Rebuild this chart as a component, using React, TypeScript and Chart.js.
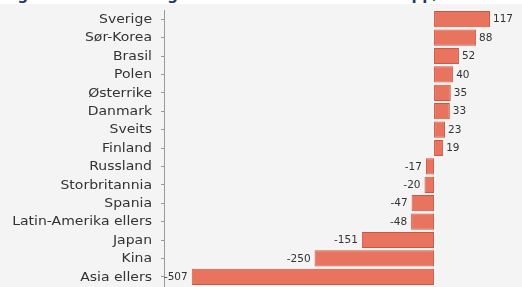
import React, { useEffect, useRef } from "react";
import { Chart, registerables } from "chart.js";

Chart.register(...registerables);

const categories = [
  "Sverige",
  "Sør-Korea",
  "Brasil",
  "Polen",
  "Østerrike",
  "Danmark",
  "Sveits",
  "Finland",
  "Russland",
  "Storbritannia",
  "Spania",
  "Latin-Amerika ellers",
  "Japan",
  "Kina",
  "Asia ellers",
];
const values = [117, 88, 52, 40, 35, 33, 23, 19, -17, -20, -47, -48, -151, -250, -507];
const titleText = "Fig 4.2 Nettoendring utenlandsmarkeder mest opp/ned";
const xMin = -565;
const xMax = 184;

const FONT = "'DejaVu Sans', Verdana, sans-serif";

const valueLabels = {
  id: "valueLabels",
  afterDatasetsDraw(chart: any) {
    const ctx = chart.ctx;
    const meta = chart.getDatasetMeta(0);
    ctx.save();
    ctx.font = `10.5px ${FONT}`;
    ctx.fillStyle = "#333333";
    ctx.textBaseline = "middle";
    meta.data.forEach((bar: any, i: number) => {
      const v = values[i];
      if (v >= 0) {
        ctx.textAlign = "left";
        ctx.fillText(String(v), bar.x + 3, bar.y + 0.5);
      } else {
        ctx.textAlign = "right";
        ctx.fillText(String(v), bar.x - 4, bar.y + 0.5);
      }
    });
    ctx.restore();
  },
};

// category labels, drawn slightly widened like the original rendering
const categoryLabels = {
  id: "categoryLabels",
  afterDraw(chart: any) {
    const ctx = chart.ctx;
    const yScale = chart.scales.y;
    const right = yScale.right - 3 - 9;
    ctx.save();
    ctx.font = `12.5px ${FONT}`;
    ctx.fillStyle = "#333333";
    ctx.textAlign = "right";
    ctx.textBaseline = "middle";
    categories.forEach((c, i) => {
      const y = yScale.getPixelForValue(i);
      ctx.save();
      ctx.translate(right, y + 0.5);
      ctx.scale(1.12, 1);
      ctx.fillText(c, 0, 0);
      ctx.restore();
    });
    ctx.restore();
  },
};

export default function App() {
  const ref = useRef<HTMLCanvasElement | null>(null);

  useEffect(() => {
    if (!ref.current) return;
    const chart = new Chart(ref.current, {
      type: "bar",
      data: {
        labels: categories,
        datasets: [
          {
            data: values,
            backgroundColor: "#e8735f",
            borderColor: "#cc5641",
            borderWidth: 1,
            borderSkipped: false,
            barPercentage: 0.88,
            categoryPercentage: 1,
          },
        ],
      },
      options: {
        indexAxis: "y",
        responsive: false,
        animation: false,
        layout: { padding: { top: 6, bottom: 1, left: 0, right: 0 } },
        plugins: {
          legend: { display: false },
          tooltip: { enabled: false },
          title: { display: false },
        },
        scales: {
          x: {
            display: false,
            min: xMin,
            max: xMax,
          },
          y: {
            afterFit(scale: any) {
              scale.width = 164;
              scale.paddingTop = 0;
              scale.paddingBottom = 0;
            },
            grid: {
              offset: false,
              drawOnChartArea: false,
              drawTicks: true,
              tickLength: 3,
              color: "#9a9a9a",
            },
            border: { display: true, color: "#9a9a9a", width: 1 },
            ticks: {
              display: false,
              autoSkip: false,
            },
          },
        },
      },
      plugins: [valueLabels, categoryLabels],
    });
    return () => chart.destroy();
  }, []);

  return (
    <div
      style={{
        position: "fixed",
        left: 0,
        top: 0,
        width: 522,
        height: 287,
        background: "#ffffff",
        overflow: "hidden",
      }}
    >
      <div
        style={{
          position: "absolute",
          left: 0,
          top: 0,
          width: 522,
          height: 4,
          overflow: "hidden",
        }}
      >
        <div
          style={{
            position: "absolute",
            left: 2,
            top: -12,
            whiteSpace: "nowrap",
            font: `bold 15px ${FONT}`,
            lineHeight: "15px",
            color: "#1f3a6e",
          }}
        >
          {titleText}
        </div>
      </div>
      <div
        style={{
          position: "absolute",
          left: 0,
          top: 4,
          width: 522,
          height: 283,
          background: "#f4f4f4",
        }}
      >
        <canvas ref={ref} width={522} height={283} style={{ display: "block" }} />
      </div>
    </div>
  );
}
